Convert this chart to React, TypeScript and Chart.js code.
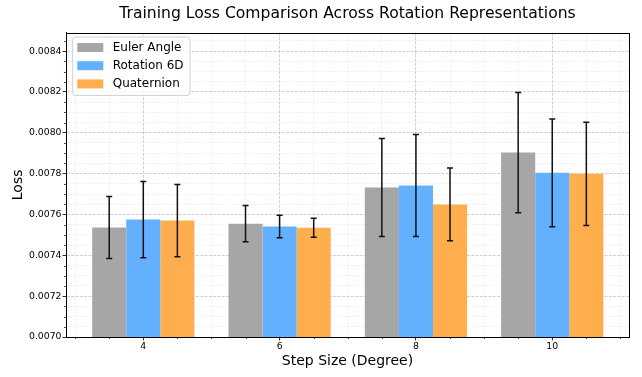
import React, { useEffect, useRef } from "react";
import { Chart, registerables } from "chart.js";

Chart.register(...registerables);

const categories = ["4", "6", "8", "10"];
const seriesNames = ["Euler Angle", "Rotation 6D", "Quaternion"];
const eulerValues = [0.007536, 0.007555, 0.007732, 0.007903];
const eulerErrors = [0.000152, 0.000089, 0.00024, 0.000294];
const rot6dValues = [0.007575, 0.007541, 0.007742, 0.007804];
const rot6dErrors = [0.000187, 0.000055, 0.00025, 0.000264];
const quatValues = [0.00757, 0.007535, 0.007649, 0.007799];
const quatErrors = [0.000177, 0.000047, 0.000178, 0.000253];
const seriesColors = ["#a6a6a6", "#62b0ff", "#ffae4d"];

const yMin = 0.007;
const yMax = 0.00849;
const yMajorStep = 0.0002;
const yMinorStep = 0.00005;
const xMin = -0.567;
const xMax = 3.563;
const xMinorStep = 0.25;

const FONT = "'DejaVu Sans', 'Liberation Sans', sans-serif";

const isMultiple = (v: number, step: number) =>
  Math.abs(v / step - Math.round(v / step)) < 1e-6;

const errorsBySeries = [eulerErrors, rot6dErrors, quatErrors];
const valuesBySeries = [eulerValues, rot6dValues, quatValues];

const minorTickPlugin = {
  id: "minorTicks",
  afterDraw(chart: any) {
    const ctx = chart.ctx;
    const xs = chart.scales.x;
    const ys = chart.scales.y;
    ctx.save();
    ctx.strokeStyle = "#000";
    ctx.lineWidth = 0.7;
    ctx.beginPath();
    xs.ticks.forEach((t: any) => {
      if (!isMultiple(t.value, 1)) {
        const px = Math.round(xs.getPixelForValue(t.value)) + 0.5;
        ctx.moveTo(px, ys.bottom);
        ctx.lineTo(px, ys.bottom + 2);
      }
    });
    ys.ticks.forEach((t: any) => {
      if (!isMultiple(t.value, yMajorStep)) {
        const py = Math.round(ys.getPixelForValue(t.value)) + 0.5;
        ctx.moveTo(xs.left, py);
        ctx.lineTo(xs.left - 2, py);
      }
    });
    ctx.stroke();
    const a = chart.chartArea;
    ctx.strokeStyle = "#000";
    ctx.lineWidth = 1;
    ctx.strokeRect(Math.round(a.left) + 0.5, Math.round(a.top) + 0.5, Math.round(a.right - a.left), Math.round(a.bottom - a.top));
    ctx.restore();
  },
};

const errorBarPlugin = {
  id: "errorBars",
  afterDatasetsDraw(chart: any) {
    const ctx = chart.ctx;
    const ys = chart.scales.y;
    ctx.save();
    ctx.strokeStyle = "#111";
    ctx.lineWidth = 1.5;
    chart.data.datasets.forEach((ds: any, i: number) => {
      const meta = chart.getDatasetMeta(i);
      meta.data.forEach((el: any, j: number) => {
        const v = valuesBySeries[i][j];
        const e = errorsBySeries[i][j];
        const top = ys.getPixelForValue(v + e);
        const bot = ys.getPixelForValue(v - e);
        const x = el.x;
        ctx.beginPath();
        ctx.moveTo(x, top);
        ctx.lineTo(x, bot);
        ctx.moveTo(x - 3, top);
        ctx.lineTo(x + 3, top);
        ctx.moveTo(x - 3, bot);
        ctx.lineTo(x + 3, bot);
        ctx.stroke();
      });
    });
    ctx.restore();
  },
};

const legendPlugin = {
  id: "boxLegend",
  afterDraw(chart: any) {
    const ctx = chart.ctx;
    const a = chart.chartArea;
    const bx = a.left + 6.7;
    const by = a.top + 4.3;
    const bw = 117.3;
    const bh = 58.4;
    ctx.save();
    ctx.beginPath();
    const r = 3;
    ctx.moveTo(bx + r, by);
    ctx.lineTo(bx + bw - r, by);
    ctx.quadraticCurveTo(bx + bw, by, bx + bw, by + r);
    ctx.lineTo(bx + bw, by + bh - r);
    ctx.quadraticCurveTo(bx + bw, by + bh, bx + bw - r, by + bh);
    ctx.lineTo(bx + r, by + bh);
    ctx.quadraticCurveTo(bx, by + bh, bx, by + bh - r);
    ctx.lineTo(bx, by + r);
    ctx.quadraticCurveTo(bx, by, bx + r, by);
    ctx.closePath();
    ctx.fillStyle = "rgba(255,255,255,0.8)";
    ctx.fill();
    ctx.strokeStyle = "#d0d0d0";
    ctx.lineWidth = 1;
    ctx.stroke();
    ctx.font = `12px ${FONT}`;
    ctx.textBaseline = "middle";
    ctx.textAlign = "left";
    chart.data.datasets.forEach((ds: any, i: number) => {
      const cy = by + 10.5 + i * 18.2;
      ctx.fillStyle = ds.backgroundColor;
      ctx.fillRect(bx + 4.6, cy - 4.5, 26, 9);
      ctx.fillStyle = "#000";
      ctx.fillText(ds.label, bx + 40, cy);
    });
    ctx.restore();
  },
};

export default function App() {
  const ref = useRef<HTMLCanvasElement | null>(null);
  useEffect(() => {
    document.body.style.margin = "0";
    const canvas = ref.current;
    if (!canvas) return;
    const majorGrid = "rgba(176,176,176,0.75)";
    const minorGrid = "rgba(176,176,176,0.4)";
    const chart = new Chart(canvas, {
      type: "bar",
      data: {
        datasets: seriesNames.map((name, i) => ({
          label: name,
          data: valuesBySeries[i].map((v, j) => ({ x: j, y: v })),
          backgroundColor: seriesColors[i],
          borderWidth: 0,
          barPercentage: 1,
          // ruler spacing follows the 0.25-unit minor ticks; 3 ticks = 0.75 of a group
          categoryPercentage: 3,
        })),
      },
      options: {
        animation: false,
        responsive: false,
        maintainAspectRatio: false,
        layout: { padding: { left: 0, right: 13, top: 0, bottom: 0 } },
        plugins: {
          legend: { display: false },
          tooltip: { enabled: false },
          title: {
            display: true,
            text: "Training Loss Comparison Across Rotation Representations",
            color: "#000",
            fullSize: false,
            font: { family: FONT, size: 15.6, weight: "normal" },
            padding: { top: 5, bottom: 9 },
          },
        },
        scales: {
          x: {
            type: "linear",
            min: xMin,
            max: xMax,
            offset: false,
            afterFit(scale: any) {
              scale.height = 40;
            },
            ticks: {
              stepSize: xMinorStep,
              includeBounds: false,
              autoSkip: false,
              maxRotation: 0,
              padding: 1,
              color: "#000",
              font: { family: FONT, size: 9.3 },
              callback: (value: any) =>
                isMultiple(Number(value), 1) ? categories[Math.round(Number(value))] ?? "" : "",
            },
            grid: {
              offset: false,
              color: (c: any) => (c.tick && isMultiple(c.tick.value, 1) ? majorGrid : minorGrid),
              lineWidth: 0.8,
              tickLength: 3.5,
              tickWidth: 0.8,
              tickColor: (c: any) => (c.tick && isMultiple(c.tick.value, 1) ? "#000" : "rgba(0,0,0,0)"),
            },
            border: {
              color: "#000",
              width: 1,
              dash: (c: any) =>
                c.tick ? (isMultiple(c.tick.value, 1) ? [3, 1.3] : [0.8, 1.4]) : [],
            },
            title: {
              display: true,
              text: "Step Size (Degree)",
              color: "#000",
              font: { family: FONT, size: 14 },
              padding: { top: 0, bottom: 7.6 },
            },
          },
          y: {
            type: "linear",
            min: yMin,
            max: yMax,
            afterFit(scale: any) {
              scale.width = 66;
            },
            ticks: {
              stepSize: yMinorStep,
              includeBounds: false,
              autoSkip: false,
              padding: 1,
              color: "#000",
              font: { family: FONT, size: 9.3 },
              callback: (value: any) =>
                isMultiple(Number(value), yMajorStep) ? Number(value).toFixed(4) : "",
            },
            grid: {
              color: (c: any) => (c.tick && isMultiple(c.tick.value, yMajorStep) ? majorGrid : minorGrid),
              lineWidth: 0.8,
              tickLength: 3.5,
              tickWidth: 0.8,
              tickColor: (c: any) =>
                c.tick && isMultiple(c.tick.value, yMajorStep) ? "#000" : "rgba(0,0,0,0)",
            },
            border: {
              color: "#000",
              width: 1,
              dash: (c: any) =>
                c.tick ? (isMultiple(c.tick.value, yMajorStep) ? [3, 1.3] : [0.8, 1.4]) : [],
            },
            title: {
              display: true,
              text: "Loss",
              color: "#000",
              font: { family: FONT, size: 14 },
              padding: { top: 10, bottom: 0 },
            },
          },
        },
      },
      plugins: [errorBarPlugin, minorTickPlugin, legendPlugin],
    } as any);
    return () => chart.destroy();
  }, []);
  return (
    <div style={{ position: "fixed", left: 0, top: 0, width: 642, height: 377 }}>
      <canvas ref={ref} width={642} height={377} />
    </div>
  );
}
